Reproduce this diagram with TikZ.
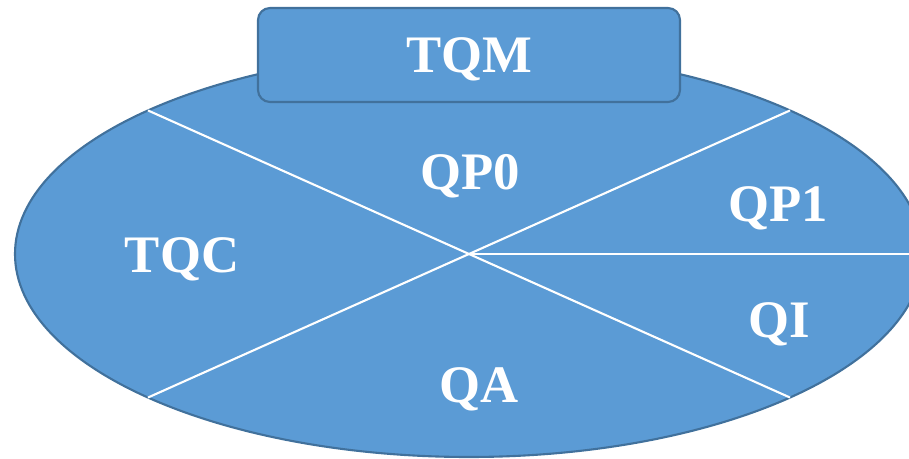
\documentclass[tikz,border=0pt]{standalone}
\usepackage{fontspec}
\setmainfont{Liberation Serif}
\usetikzlibrary{calc,shapes}
\definecolor{wheelfill}{HTML}{5B9BD5}
\definecolor{wheeledge}{HTML}{41719C}

\begin{document}
\begin{tikzpicture}[
        wheel/.style={fill=wheelfill,draw=wheeledge,line width=0.6pt},
        divider/.style={draw=white,line width=0.6pt},
        part/.style={text=white,font=\fontsize{15}{18}\selectfont\bfseries,anchor=base,inner sep=0pt}]
        \useasboundingbox (0,0) rectangle (9.09,4.59);
        \coordinate (mid) at (4.69,2.05);
        \draw[wheel] (mid) ellipse (4.54 and 2.03);
        \foreach \a in {45,135,225,315}
        \draw[divider] (mid) -- ++(\a:4.54 and 2.03) coordinate (rim\a);
        \draw[divider] (mid) -- ++(0:4.54 and 2.03) coordinate (rim0);
        \node[wheel,rounded corners=0.12cm,minimum width=4.22cm,minimum height=0.94cm,
            text=white,font=\fontsize{15}{18}\selectfont\bfseries,text depth=0pt] (tqm) at (4.69,4.04) {TQM};
        \node[part] (qp0) at (4.70,2.69) {QP0};
        \node[part] (qp1) at (7.78,2.37) {QP1};
        \node[part] (tqc) at (1.82,1.86) {TQC};
        \node[part] (qi) at (7.79,1.21) {QI};
        \node[part] (qa) at (4.79,0.56) {QA};
    \end{tikzpicture}
\end{document}
